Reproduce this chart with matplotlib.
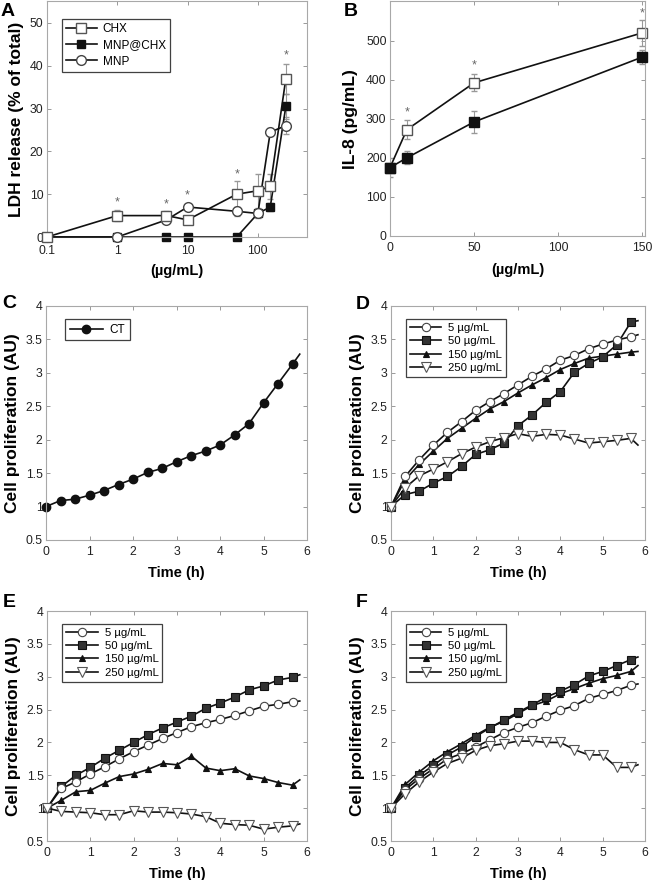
import numpy as np
import matplotlib
matplotlib.use('Agg')
import matplotlib.pyplot as plt
from matplotlib.ticker import FixedLocator, FuncFormatter

plt.rcParams['font.family'] = ['Liberation Sans', 'DejaVu Sans']

# ---- A: LDH release
a_conc = [0.1, 1, 5, 10, 50, 100, 150, 250]
a_chx = [0, 5, 5, 4, 10, 10.8, 11.8, 37]
a_chx_err = [0, 1.3, 1, 1, 3, 4, 3, 3.5]
a_mnpchx = [0, 0, 0, 0, 0, 5.5, 7, 30.5]
a_mnpchx_err = [0, 0, 0, 0, 0, 0, 1, 3]
a_mnp = [0, 0, 4, 7, 6, 5.5, 24.5, 26]
a_mnp_err = [0, 0, 0.5, 0.5, 1, 1, 1, 2]
a_star_x = [1, 5, 10, 50, 250]
a_star_y = [8.0, 7.5, 9.6, 14.7, 42.4]

# ---- B: IL-8
b_conc = [0, 10, 50, 150]
b_chx = [175, 272, 392, 520]
b_chx_err = [0, 24, 22, 33]
b_mnpchx = [175, 200, 292, 458]
b_mnpchx_err = [25, 17, 28, 18]
b_star_x = [10, 50, 150]
b_star_y = [317, 437, 569]

# ---- C-F: proliferation, readings every 20 min + last reading
t = np.append(np.arange(18) / 3, 35 / 6)
c_ct = [1.0, 1.09, 1.11, 1.17, 1.24, 1.33, 1.41, 1.51, 1.57, 1.67, 1.76, 1.83,
        1.92, 2.07, 2.24, 2.55, 2.84, 3.13, 3.28]

d_5 = [1.0, 1.45, 1.70, 1.92, 2.11, 2.27, 2.44, 2.57, 2.69, 2.82, 2.95, 3.06,
       3.19, 3.26, 3.36, 3.43, 3.49, 3.54, 3.57]
d_50 = [1.0, 1.18, 1.23, 1.35, 1.45, 1.60, 1.78, 1.85, 1.95, 2.21, 2.37, 2.56,
        2.72, 3.01, 3.14, 3.24, 3.42, 3.76, 3.78]
d_150 = [1.0, 1.40, 1.63, 1.83, 2.02, 2.17, 2.32, 2.46, 2.57, 2.70, 2.82, 2.93,
         3.05, 3.14, 3.22, 3.25, 3.28, 3.31, 3.32]
d_250 = [1.0, 1.28, 1.46, 1.56, 1.67, 1.79, 1.89, 1.97, 2.03, 2.09, 2.05, 2.08,
         2.07, 2.01, 1.95, 1.97, 1.99, 2.02, 1.92]

e_5 = [1.0, 1.30, 1.40, 1.52, 1.63, 1.75, 1.86, 1.96, 2.06, 2.15, 2.24, 2.30,
       2.35, 2.41, 2.48, 2.55, 2.58, 2.62, 2.63]
e_50 = [1.0, 1.33, 1.50, 1.62, 1.76, 1.88, 2.00, 2.12, 2.22, 2.31, 2.40, 2.52,
        2.60, 2.69, 2.80, 2.86, 2.95, 2.99, 3.03]
e_150 = [1.0, 1.12, 1.25, 1.27, 1.38, 1.48, 1.52, 1.59, 1.68, 1.66, 1.79, 1.61,
         1.57, 1.60, 1.49, 1.45, 1.39, 1.35, 1.43]
e_250 = [1.0, 0.95, 0.94, 0.93, 0.90, 0.90, 0.96, 0.94, 0.94, 0.93, 0.91, 0.87,
         0.77, 0.75, 0.74, 0.68, 0.71, 0.73, 0.76]

f_5 = [1.0, 1.28, 1.45, 1.60, 1.75, 1.83, 1.93, 2.04, 2.15, 2.23, 2.30, 2.40,
       2.49, 2.56, 2.67, 2.73, 2.79, 2.87, 2.89]
f_50 = [1.0, 1.31, 1.50, 1.65, 1.81, 1.93, 2.09, 2.22, 2.34, 2.46, 2.57, 2.69,
        2.78, 2.88, 3.01, 3.08, 3.17, 3.26, 3.30]
f_150 = [1.0, 1.36, 1.55, 1.72, 1.86, 1.98, 2.11, 2.23, 2.32, 2.44, 2.56, 2.63,
         2.74, 2.82, 2.90, 2.97, 3.02, 3.08, 3.17]
f_250 = [1.0, 1.22, 1.40, 1.55, 1.68, 1.76, 1.88, 1.95, 1.98, 2.02, 2.02, 2.00,
         2.00, 1.89, 1.81, 1.81, 1.62, 1.62, 1.66]

conc_labels = ['5 µg/mL', '50 µg/mL', '150 µg/mL', '250 µg/mL']

W, H = 654, 880
fig = plt.figure(figsize=(W / 100, H / 100), dpi=100)


def add_ax(l, t_, r, b):
    return fig.add_axes([l / W, 1 - b / H, (r - l) / W, (b - t_) / H])


def style(ax):
    for s in ax.spines.values():
        s.set_color('#a8a8a8')
        s.set_linewidth(0.8)
    ax.tick_params(direction='in', length=3, width=0.7, color='#999999',
                   labelsize=8.8, labelcolor='#222222', pad=3,
                   top=True, right=True)
    ax.tick_params(axis='y', pad=2.5)
    ax.tick_params(axis='x', pad=4)


def letter(x, y, s):
    fig.text(x / W, 1 - y / H, s, fontsize=14, fontweight='bold', va='top', ha='left')


line_kw = dict(color='#111111', lw=1.2, clip_on=False)
mk = {
    'circ': dict(marker='o', mfc='white', mec='#444444', ms=6, mew=0.8),
    'sq': dict(marker='s', mfc='#333333', mec='#111111', ms=5.5, mew=0.8),
    'tri': dict(marker='^', mfc='#111111', mec='#111111', ms=5, mew=0.8),
    'dtri': dict(marker='v', mfc='white', mec='#555555', ms=6.5, mew=0.8),
}

# ---------------- A
ax = add_ax(47, 1.5, 307, 237)
style(ax)
ax.set_xscale('log')
ax.errorbar(a_conc, a_chx, yerr=a_chx_err, fmt='none', ecolor='#999999', elinewidth=0.8, capsize=2, zorder=1)
ax.errorbar(a_conc, a_mnpchx, yerr=a_mnpchx_err, fmt='none', ecolor='#999999', elinewidth=0.8, capsize=2, zorder=1)
ax.errorbar(a_conc, a_mnp, yerr=a_mnp_err, fmt='none', ecolor='#999999', elinewidth=0.8, capsize=2, zorder=1)
h2, = ax.plot(a_conc, a_mnpchx, marker='s', mfc='#111111', mec='#111111', ms=6, label='MNP@CHX', zorder=2, **line_kw)
h3, = ax.plot(a_conc, a_mnp, marker='o', mfc='white', mec='#444444', ms=7, label='MNP', zorder=3, **line_kw)
h1, = ax.plot(a_conc, a_chx, marker='s', mfc='white', mec='#555555', ms=6.5, label='CHX', zorder=4, **line_kw)
for x, y in zip(a_star_x, a_star_y):
    ax.text(x, y, '*', ha='center', va='center', fontsize=9, color='#666666')
ax.set_xlim(0.1, 500)
ax.set_ylim(0, 55)
ax.xaxis.set_major_locator(FixedLocator([0.1, 1, 10, 100]))
ax.xaxis.set_minor_locator(FixedLocator([]))
ax.xaxis.set_major_formatter(FuncFormatter(lambda v, p: '%g' % v))
ax.set_yticks([0, 10, 20, 30, 40, 50])
ax.tick_params(axis='x', pad=5.5)
ax.set_xlabel('(µg/mL)', fontsize=10.5, fontweight='bold', labelpad=5)
ax.set_ylabel('LDH release (% of total)', fontsize=12.5, fontweight='bold', labelpad=4)
leg = ax.legend(handles=[h1, h2, h3], loc='upper left', bbox_to_anchor=(0.035, 0.95),
                fontsize=8.5, frameon=True, fancybox=False, edgecolor='#111111',
                handlelength=2.6, labelspacing=0.35, borderpad=0.35, handletextpad=0.5)
leg.get_frame().set_linewidth(0.9)
letter(1, 3, 'A')

# ---------------- B
ax = add_ax(390, 1.5, 645, 236)
style(ax)
ax.errorbar(b_conc, b_chx, yerr=b_chx_err, fmt='none', ecolor='#999999', elinewidth=0.8, capsize=2, zorder=1)
ax.errorbar(b_conc, b_mnpchx, yerr=b_mnpchx_err, fmt='none', ecolor='#999999', elinewidth=0.8, capsize=2, zorder=1)
ax.plot(b_conc, b_chx, marker='s', mfc='white', mec='#555555', ms=6.5, zorder=2, **line_kw)
ax.plot(b_conc, b_mnpchx, marker='s', mfc='#111111', mec='#111111', ms=6.5, zorder=3, **line_kw)
for x, y in zip(b_star_x, b_star_y):
    ax.text(x, y, '*', ha='center', va='center', fontsize=9, color='#666666')
ax.set_xlim(0, 151.5)
ax.set_ylim(0, 600)
ax.set_xticks([0, 50, 100, 150])
ax.set_yticks([0, 100, 200, 300, 400, 500])
ax.set_xlabel('(µg/mL)', fontsize=10.5, fontweight='bold', labelpad=7)
ax.set_ylabel('IL-8 (pg/mL)', fontsize=12.5, fontweight='bold', labelpad=6)
letter(344, 3, 'B')


def prolif(ax):
    style(ax)
    ax.set_xlim(0, 6)
    ax.set_ylim(0.5, 4)
    ax.set_xticks(range(7))
    ax.set_yticks([0.5, 1, 1.5, 2, 2.5, 3, 3.5, 4])
    ax.yaxis.set_major_formatter(FuncFormatter(lambda v, p: '%g' % v))
    ax.set_xlabel('Time (h)', fontsize=10.5, fontweight='bold', labelpad=6)
    ax.set_ylabel('Cell proliferation (AU)', fontsize=12.5, fontweight='bold', labelpad=4)


def four(ax, s5, s50, s150, s250, anchor):
    hs = []
    for vals, key, lab, z in [(s5, 'circ', conc_labels[0], 4), (s50, 'sq', conc_labels[1], 3),
                              (s150, 'tri', conc_labels[2], 2), (s250, 'dtri', conc_labels[3], 5)]:
        h, = ax.plot(t, vals, markevery=list(range(18)), label=lab, zorder=z, **line_kw, **mk[key])
        hs.append(h)
    leg = ax.legend(handles=hs, loc='upper left', bbox_to_anchor=anchor, fontsize=8.2,
                    frameon=True, fancybox=False, edgecolor='#111111', handlelength=2.8,
                    labelspacing=0.3, borderpad=0.35, handletextpad=0.6)
    leg.get_frame().set_linewidth(0.9)


# ---------------- C
ax = add_ax(46, 306, 307, 540)
prolif(ax)
ax.plot(t, c_ct, marker='o', mfc='#111111', mec='#111111', ms=6, markevery=list(range(18)),
        label='CT', **line_kw)
leg = ax.legend(loc='upper left', bbox_to_anchor=(0.05, 0.97), fontsize=8.5, frameon=True,
                fancybox=False, edgecolor='#111111', handlelength=2.8, borderpad=0.4,
                handletextpad=0.6)
leg.get_frame().set_linewidth(0.9)
letter(2, 295, 'C')

# ---------------- D
ax = add_ax(391, 306, 645, 540)
prolif(ax)
four(ax, d_5, d_50, d_150, d_250, (0.035, 0.97))
letter(356, 296, 'D')

# ---------------- E
ax = add_ax(47, 611, 307, 841)
prolif(ax)
four(ax, e_5, e_50, e_150, e_250, (0.035, 0.97))
letter(3, 594, 'E')

# ---------------- F
ax = add_ax(391, 611, 645, 841)
prolif(ax)
four(ax, f_5, f_50, f_150, f_250, (0.035, 0.97))
letter(356, 594, 'F')

fig.savefig('out.png', dpi=100)
